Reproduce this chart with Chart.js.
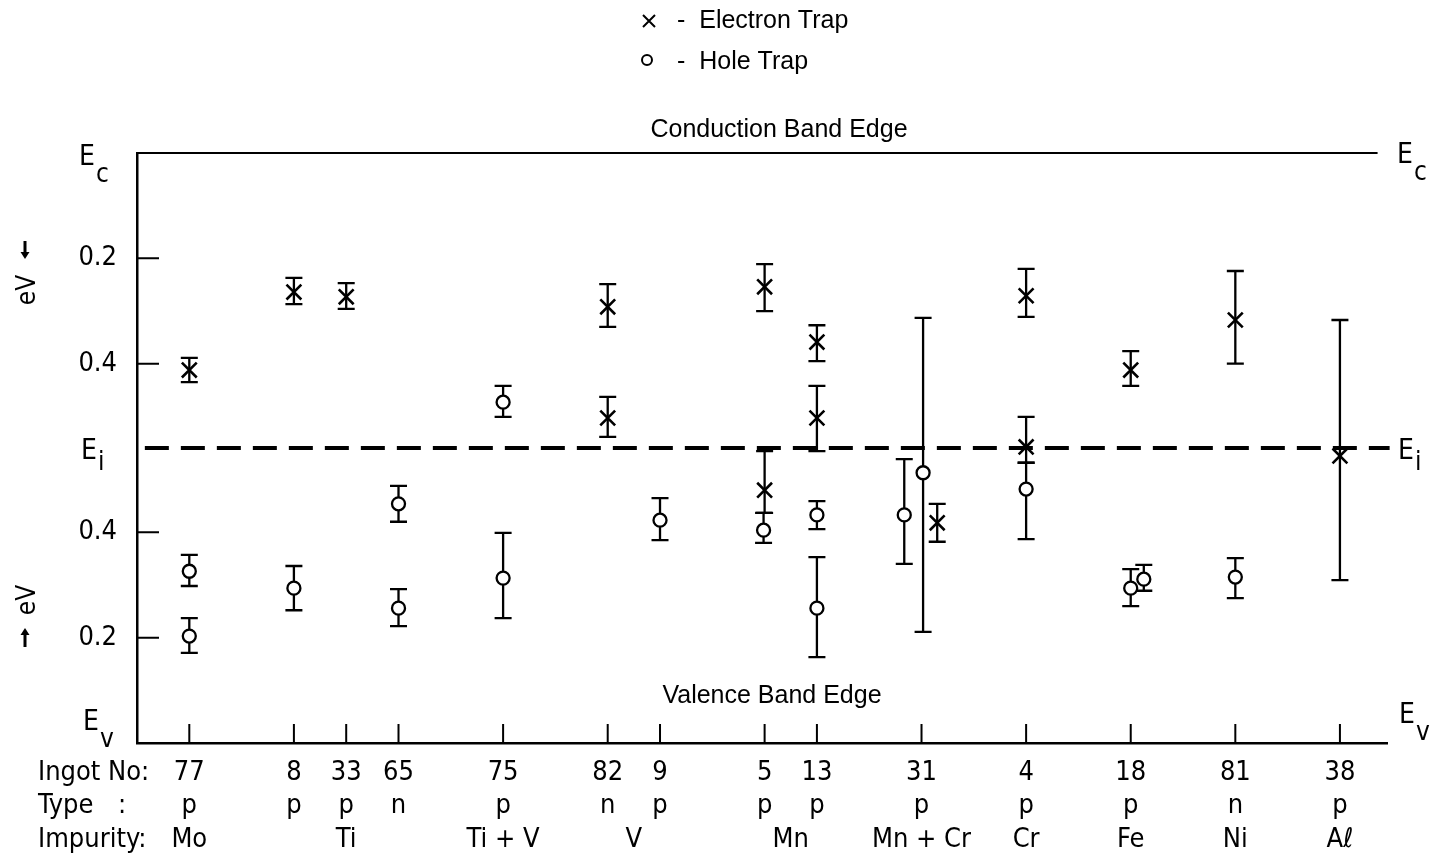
<!DOCTYPE html>
<html>
<head>
<meta charset="utf-8">
<script src="https://cdn.jsdelivr.net/npm/chart.js@4.4.0/dist/chart.umd.min.js"></script>
<style>
   html, body { margin: 0; padding: 0; background: #fff; }
   #wrap { width: 1433px; height: 862px; }
</style>
</head>
<body>
<div id="wrap"><canvas id="livelli" width="1433" height="862"></canvas></div>
<script>
// energies in eV, measured upwards from the valence band edge
var Ev = 0;
var Ei = 0.56;
var Ec = 1.12;

// samples along the x axis (slot positions)
var ingots = ['77', '8', '33', '65', '75', '82', '9', '5', '13', '31', '4', '18', '81', '38'];
var ingotPos = [1, 3, 4, 5, 7, 9, 10, 12, 13, 15, 17, 19, 21, 23];
var types = ['p', 'p', 'p', 'n', 'p', 'n', 'p', 'p', 'p', 'p', 'p', 'p', 'n', 'p'];
var impurities = ['Mo', 'Ti', 'Ti + V', 'V', 'Mn', 'Mn + Cr', 'Cr', 'Fe', 'Ni', 'A\u2113'];
var impurityPos = [1, 4, 7, 9.5, 12.5, 15, 17, 19, 21, 23];

// y ticks: 0.2 / 0.4 eV from each band edge
var yTickValues = [0.2, 0.4, 0.72, 0.92];
var yTickLabels = ['0.2', '0.4', '0.4', '0.2'];

// electron traps
var electronX = [1, 3, 4, 9, 9, 12, 12, 13, 13, 15.3, 17, 17, 19, 21, 23];
var electronE = [0.708, 0.856, 0.847, 0.828, 0.617, 0.866, 0.480, 0.761, 0.617, 0.418, 0.849, 0.562, 0.708, 0.803, 0.545];
var electronHi = [0.731, 0.883, 0.873, 0.871, 0.657, 0.909, 0.554, 0.793, 0.678, 0.454, 0.900, 0.619, 0.744, 0.896, 0.803];
var electronLo = [0.685, 0.833, 0.824, 0.790, 0.581, 0.820, 0.437, 0.725, 0.554, 0.382, 0.809, 0.532, 0.678, 0.720, 0.309];

// hole traps
var holeX = [1, 1, 3, 5, 5, 7, 7, 10, 11.98, 13, 13, 14.67, 15.03, 17, 19, 19.25, 21];
var holeE = [0.326, 0.203, 0.294, 0.454, 0.256, 0.647, 0.313, 0.423, 0.404, 0.433, 0.256, 0.433, 0.513, 0.482, 0.294, 0.311, 0.315];
var holeHi = [0.357, 0.237, 0.336, 0.488, 0.292, 0.678, 0.399, 0.465, 0.437, 0.459, 0.353, 0.539, 0.807, 0.532, 0.330, 0.338, 0.351];
var holeLo = [0.298, 0.171, 0.252, 0.420, 0.222, 0.619, 0.237, 0.385, 0.380, 0.406, 0.163, 0.340, 0.211, 0.387, 0.260, 0.289, 0.275];

var narrow = '"Liberation Sans Narrow", "DejaVu Sans Condensed", "Liberation Sans", sans-serif';
var regular = '"Liberation Sans", Arial, sans-serif';

// x ticks: every sample slot plus the group centres of the impurity row
var xTicks = ingotPos.concat(impurityPos).filter(function (v, i, a) {
   return a.indexOf(v) === i;
}).sort(function (a, b) { return a - b; });

function xLabel(v) {
   var i = ingotPos.indexOf(v);
   var j = impurityPos.indexOf(v);
   return [i >= 0 ? ingots[i] : '', i >= 0 ? types[i] : '', j >= 0 ? impurities[j] : ''];
}

var errorBars = {
   id: 'errorBars',
   beforeDatasetsDraw: function (chart) {
      var ctx = chart.ctx;
      var x = chart.scales.x, y = chart.scales.y;
      ctx.save();
      ctx.strokeStyle = '#000';
      ctx.lineWidth = 2.3;
      chart.data.datasets.forEach(function (ds) {
         if (!ds.errHi) return;
         ds.data.forEach(function (p, i) {
            var px = x.getPixelForValue(p.x);
            var top = y.getPixelForValue(ds.errHi[i]);
            var bot = y.getPixelForValue(ds.errLo[i]);
            ctx.beginPath();
            ctx.moveTo(px, top); ctx.lineTo(px, bot);
            ctx.moveTo(px - 8.5, top); ctx.lineTo(px + 8.5, top);
            ctx.moveTo(px - 8.5, bot); ctx.lineTo(px + 8.5, bot);
            ctx.stroke();
         });
      });
      ctx.restore();
   }
};

function bandLabel(ctx, px, py, sub) {
   ctx.font = '28px ' + narrow;
   ctx.textAlign = 'left';
   ctx.textBaseline = 'alphabetic';
   ctx.fillText('E', px, py);
   var w = ctx.measureText('E').width;
   ctx.font = '26px ' + narrow;
   ctx.fillText(sub, px + w + 1, py + (sub === 'i' ? 11 : 17));
}

function arrow(ctx, px, y0, y1) {
   var dir = y1 > y0 ? 1 : -1;
   ctx.beginPath();
   ctx.moveTo(px, y0); ctx.lineTo(px, y1 - dir * 6);
   ctx.stroke();
   ctx.beginPath();
   ctx.moveTo(px - 4.5, y1 - dir * 7);
   ctx.lineTo(px + 4.5, y1 - dir * 7);
   ctx.lineTo(px, y1);
   ctx.closePath();
   ctx.fill();
}

var annotazioni = {
   id: 'annotazioni',
   afterDraw: function (chart) {
      var ctx = chart.ctx;
      var x = chart.scales.x, y = chart.scales.y;
      var area = chart.chartArea;
      ctx.save();
      ctx.fillStyle = '#000';
      ctx.strokeStyle = '#000';

      // inward tick marks
      ctx.lineWidth = 2;
      ctx.beginPath();
      ingotPos.forEach(function (v) {
         var px = x.getPixelForValue(v);
         ctx.moveTo(px, area.bottom);
         ctx.lineTo(px, area.bottom - 19);
      });
      yTickValues.forEach(function (v) {
         var py = y.getPixelForValue(v);
         ctx.moveTo(area.left, py);
         ctx.lineTo(area.left + 22, py);
      });
      ctx.stroke();

      // band edge names
      bandLabel(ctx, 79, y.getPixelForValue(Ec) + 12, 'c');
      bandLabel(ctx, 81, y.getPixelForValue(Ei) + 11, 'i');
      bandLabel(ctx, 83, y.getPixelForValue(Ev) - 13, 'v');
      bandLabel(ctx, 1397, y.getPixelForValue(Ec) + 10, 'c');
      bandLabel(ctx, 1398, y.getPixelForValue(Ei) + 11, 'i');
      bandLabel(ctx, 1399, y.getPixelForValue(Ev) - 20, 'v');

      ctx.font = '25px ' + regular;
      ctx.textAlign = 'center';
      ctx.textBaseline = 'middle';
      ctx.fillText('Conduction Band Edge', 779, 130);
      ctx.fillText('Valence Band Edge', 772, 696);

      // eV direction labels
      ctx.font = '26px ' + narrow;
      [290, 600].forEach(function (cy) {
         ctx.save();
         ctx.translate(28, cy);
         ctx.rotate(-Math.PI / 2);
         ctx.fillText('eV', 0, 0);
         ctx.restore();
      });
      ctx.lineWidth = 3;
      arrow(ctx, 25, 241, 259);
      arrow(ctx, 25, 647, 628);

      // row headers under the axis
      ctx.font = '27px ' + narrow;
      ctx.textAlign = 'left';
      ctx.fillText('Ingot No:', 38, 773);
      ctx.fillText('Type', 38, 806);
      ctx.fillText(':', 118, 806);
      ctx.fillText('Impurity:', 38, 840);

      // legend
      ctx.lineWidth = 2;
      ctx.beginPath();
      ctx.moveTo(643, 15); ctx.lineTo(655, 27);
      ctx.moveTo(655, 15); ctx.lineTo(643, 27);
      ctx.stroke();
      ctx.beginPath();
      ctx.arc(647, 60, 5, 0, Math.PI * 2);
      ctx.stroke();
      ctx.font = '25px ' + regular;
      ctx.fillText('-  Electron Trap', 677, 21);
      ctx.fillText('-  Hole Trap', 677, 62);
      ctx.restore();
   }
};

var ctx = document.getElementById('livelli').getContext('2d');
var grafico = new Chart(ctx, {
   type: 'scatter',
   data: {
      datasets: [{
         label: 'Electron Trap',
         data: electronX.map(function (v, i) { return { x: v, y: electronE[i] }; }),
         errHi: electronHi,
         errLo: electronLo,
         pointStyle: 'crossRot',
         pointRadius: 10.5,
         pointBorderWidth: 2.6,
         borderColor: '#000',
         backgroundColor: '#000',
         clip: false
      }, {
         label: 'Hole Trap',
         data: holeX.map(function (v, i) { return { x: v, y: holeE[i] }; }),
         errHi: holeHi,
         errLo: holeLo,
         pointStyle: 'circle',
         pointRadius: 6.5,
         pointBorderWidth: 2.3,
         borderColor: '#000',
         backgroundColor: '#fff',
         clip: false
      }, {
         type: 'line',
         label: 'Ei',
         data: [{ x: 0.15, y: Ei }, { x: 23.95, y: Ei }],
         borderColor: '#000',
         borderWidth: 4,
         borderDash: [24, 12],
         pointRadius: 0,
         clip: false
      }, {
         type: 'line',
         label: 'Ec',
         data: [{ x: 0, y: Ec }, { x: 23.72, y: Ec }],
         borderColor: '#000',
         borderWidth: 2,
         pointRadius: 0,
         clip: false
      }]
   },
   options: {
      responsive: false,
      animation: false,
      devicePixelRatio: 1,
      layout: { padding: { top: 153, right: 46, bottom: 0, left: 0 } },
      plugins: {
         legend: { display: false },
         tooltip: { enabled: false }
      },
      scales: {
         x: {
            type: 'linear',
            min: 0,
            max: 23.9,
            afterFit: function (scale) { scale.height = 119; },
            afterBuildTicks: function (scale) {
               scale.ticks = xTicks.map(function (v) { return { value: v }; });
            },
            grid: { display: false, drawTicks: false },
            border: { display: true, color: '#000', width: 2.5 },
            ticks: {
               autoSkip: false,
               maxRotation: 0,
               minRotation: 0,
               padding: 13,
               color: '#000',
               font: { family: narrow, size: 27, lineHeight: 1.24 },
               callback: function (v) { return xLabel(v); }
            }
         },
         y: {
            type: 'linear',
            min: Ev,
            max: Ec,
            afterFit: function (scale) { scale.width = 137; },
            afterBuildTicks: function (scale) {
               scale.ticks = yTickValues.map(function (v) { return { value: v }; });
            },
            grid: { display: false, drawTicks: false },
            border: { display: true, color: '#000', width: 2.5 },
            ticks: {
               padding: 20,
               color: '#000',
               font: { family: narrow, size: 27 },
               callback: function (v, i) { return yTickLabels[i]; }
            }
         }
      }
   },
   plugins: [errorBars, annotazioni]
});
</script>
</body>
</html>
